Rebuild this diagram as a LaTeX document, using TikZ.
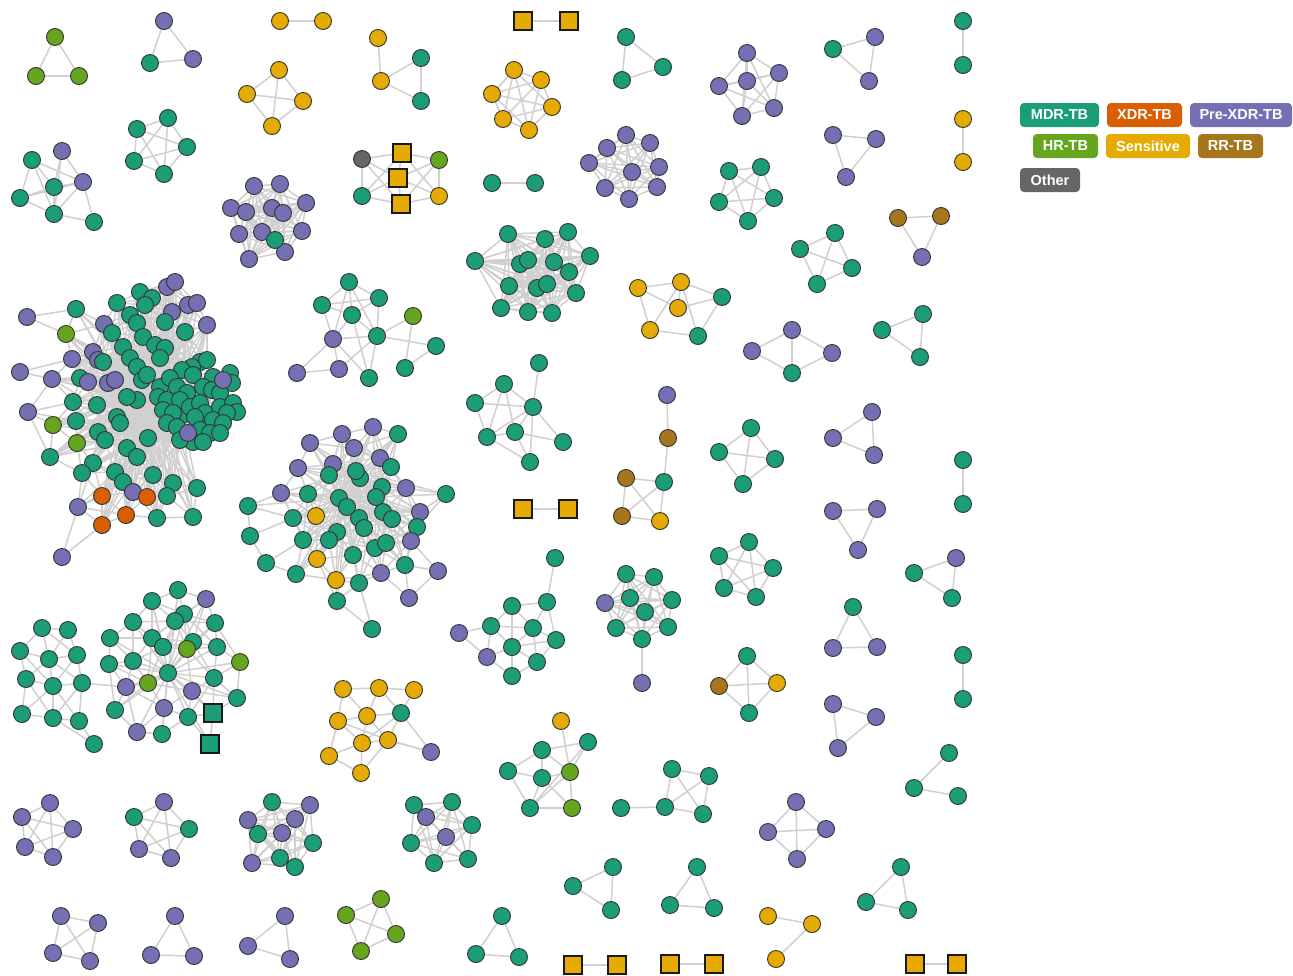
\documentclass[tikz,border=0pt]{standalone}
\usepackage{fontspec}
\newfontfamily\legfont{Liberation Sans}
\definecolor{cM}{HTML}{1B9E77}
\definecolor{cX}{HTML}{D95F02}
\definecolor{cP}{HTML}{7570B3}
\definecolor{cH}{HTML}{66A61E}
\definecolor{cS}{HTML}{E6AB02}
\definecolor{cR}{HTML}{A6761D}
\definecolor{cO}{HTML}{666666}
\definecolor{edgec}{HTML}{D0D0D0}
\pgfdeclarelayer{bg}
\pgfsetlayers{bg,main}
\newdimen\cdxa \newdimen\cdya \newdimen\cdxb \newdimen\cdyb
\tikzset{
 nd/.style={circle,inner sep=0pt,minimum size=17pt,draw=black!80,line width=0.9pt},
 mdr/.style={nd,fill=cM}, xdr/.style={nd,fill=cX}, pre/.style={nd,fill=cP},
 hr/.style={nd,fill=cH}, sen/.style={nd,fill=cS}, rr/.style={nd,fill=cR}, oth/.style={nd,fill=cO},
 sqn/.style={rectangle,inner sep=0pt,minimum size=18pt,draw=black!90,line width=2pt},
 msq/.style={sqn,fill=cM}, ssq/.style={sqn,fill=cS},
 lnk/.style={draw=edgec,line width=1.5pt},
 leg/.style={rectangle,rounded corners=4pt,inner sep=0pt,minimum height=24pt,text=white,
   font=\legfont\bfseries\fontsize{14.5}{16}\selectfont}
}
\newcommand\mkcl[2]{\foreach[count=\k] \px/\py/\pc in {#2}{%
  \edef\nodecmd{\noexpand\node[\pc] (#1\k) at (\px,\py) {};}\nodecmd
  \expandafter\xdef\csname n@#1\endcsname{\k}}}
\newcommand\tryedge[3]{%
  \pgfextractx{\cdxa}{\pgfpointanchor{#1}{center}}%
  \pgfextracty{\cdya}{\pgfpointanchor{#1}{center}}%
  \pgfextractx{\cdxb}{\pgfpointanchor{#2}{center}}%
  \pgfextracty{\cdyb}{\pgfpointanchor{#2}{center}}%
  \pgfmathtruncatemacro\ok{veclen(\cdxa-\cdxb,\cdya-\cdyb)<#3}%
  \ifnum\ok=1 \draw[lnk] (#1)--(#2);\fi}
\newcommand\nearin[2]{\edef\nn{\csname n@#1\endcsname}%
  \foreach \i in {1,...,\nn}{\foreach \j in {1,...,\nn}{\ifnum\i<\j \tryedge{#1\i}{#1\j}{#2}\fi}}}
\newcommand\nearab[3]{\edef\na{\csname n@#1\endcsname}\edef\nb{\csname n@#2\endcsname}%
  \foreach \i in {1,...,\na}{\foreach \j in {1,...,\nb}{\tryedge{#1\i}{#2\j}{#3}}}}
\newcommand\clq[1]{\nearin{#1}{9999}}
\newcommand\mkln[1]{\foreach \u/\v in {#1}{\draw[lnk] (\u)--(\v);}}
\begin{document}
\begin{tikzpicture}[x=1pt,y=-1pt]
\useasboundingbox (0,0) rectangle (1293,975);
% ---------------- nodes ----------------
\mkcl{A}{55/37/hr,36/76/hr,79/76/hr}
\mkcl{B}{164/21/pre,150/63/mdr,193/59/pre}
\mkcl{C}{280/21/sen,323/21/sen}
\mkcl{D}{279/70/sen,247/94/sen,303/101/sen,272/126/sen}
\mkcl{E}{168/118/mdr,137/129/mdr,187/147/mdr,134/161/mdr,164/174/mdr}
\mkcl{F}{32/160/mdr,62/151/pre,54/187/mdr,83/182/pre,20/198/mdr,54/214/mdr,94/222/mdr}
\mkcl{G}{254/186/pre,280/184/pre,306/203/pre,231/208/pre,246/212/pre,272/208/pre,283/213/pre,239/234/pre,262/232/pre,302/231/pre,249/259/pre,285/252/pre,275/240/mdr}
\mkcl{H}{378/38/sen,381/81/sen,421/58/mdr,421/101/mdr}
\mkcl{Qa}{523/21/ssq,569/21/ssq}
\mkcl{I}{514/70/sen,541/80/sen,492/94/sen,552/107/sen,503/119/sen,529/130/sen}
\mkcl{J}{362/159/oth,439/160/hr,362/196/mdr,439/196/sen,402/153/ssq,398/178/ssq,401/204/ssq}
\mkcl{Ka}{492/183/mdr,535/183/mdr}
\mkcl{K}{626/135/pre,607/148/pre,650/143/pre,589/163/pre,632/172/pre,659/167/pre,605/188/pre,629/199/pre,657/187/pre}
\mkcl{L}{626/37/mdr,622/80/mdr,663/67/mdr}
\mkcl{Pu}{747/53/pre,719/86/pre,747/81/pre,779/73/pre,742/116/pre,774/108/pre}
\mkcl{Nt}{833/49/mdr,875/37/pre,869/81/pre}
\mkcl{Pa}{963/21/mdr,963/65/mdr}
\mkcl{Pb}{963/119/sen,963/162/sen}
\mkcl{Ot}{833/135/pre,876/139/pre,846/177/pre}
\mkcl{Pg}{729/171/mdr,761/167/mdr,719/202/mdr,774/198/mdr,748/221/mdr}
\mkcl{Qr}{898/218/rr,941/216/rr,922/257/pre}
\mkcl{Rg}{835/233/mdr,800/249/mdr,852/268/mdr,817/284/mdr}
\mkcl{Sx}{638/288/sen,681/282/sen,722/297/mdr,678/308/sen,650/330/sen,698/336/mdr}
\mkcl{Td}{792/330/pre,752/351/pre,832/353/pre,792/373/mdr}
\mkcl{Ut}{882/330/mdr,923/314/mdr,920/357/mdr}
\mkcl{W}{508/234/mdr,545/239/mdr,568/232/mdr,590/256/mdr,475/261/mdr,520/264/mdr,528/260/mdr,554/262/mdr,569/272/mdr,509/286/mdr,537/288/mdr,547/284/mdr,576/293/mdr,501/308/mdr,528/312/mdr,552/313/mdr}
\mkcl{Y}{539/363/mdr,504/384/mdr,475/403/mdr,533/407/mdr,487/437/mdr,515/432/mdr,563/442/mdr,530/462/mdr}
\mkcl{Z}{667/395/pre,668/438/rr,664/482/mdr,626/478/rr,622/516/rr,660/521/sen}
\mkcl{Qb}{523/509/ssq,568/509/ssq}
\mkcl{Vg}{751/428/mdr,719/452/mdr,775/459/mdr,743/484/mdr}
\mkcl{Wt}{872/412/pre,833/438/pre,874/455/pre}
\mkcl{Pc}{963/460/mdr,963/504/mdr}
\mkcl{Xt}{833/511/pre,877/509/pre,858/550/pre}
\mkcl{Yg}{749/542/mdr,719/556/mdr,773/568/mdr,724/588/mdr,756/597/mdr}
\mkcl{Zt}{914/573/mdr,956/558/pre,952/598/mdr}
\mkcl{Aa}{853/607/mdr,833/648/pre,877/647/pre}
\mkcl{Pd}{963/655/mdr,963/699/mdr}
\mkcl{Bb}{747/656/mdr,719/686/rr,777/683/sen,749/713/mdr}
\mkcl{Cc}{833/704/pre,876/717/pre,838/748/pre}
\mkcl{Dd}{949/753/mdr,914/788/mdr,958/796/mdr}
\mkcl{Ee}{796/802/pre,768/832/pre,826/829/pre,797/859/pre}
\mkcl{Ff}{901/867/mdr,866/902/mdr,908/910/mdr}
\mkcl{Gg}{768/916/sen,812/924/sen,776/959/sen}
\mkcl{Qc}{573/965/ssq,617/965/ssq}
\mkcl{Qd}{670/964/ssq,714/964/ssq}
\mkcl{Qe}{915/964/ssq,957/964/ssq}
\mkcl{Q}{672/769/mdr,709/776/mdr,621/808/mdr,665/807/mdr,703/814/mdr}
\mkcl{Hh}{613/867/mdr,573/886/mdr,611/910/mdr}
\mkcl{Ii}{697/867/mdr,670/905/mdr,714/908/mdr}
\mkcl{Jj}{502/916/mdr,476/954/mdr,519/957/mdr}
\mkcl{P}{561/721/sen,588/742/mdr,542/750/mdr,508/771/mdr,542/778/mdr,570/772/hr,530/808/mdr,572/808/hr}
\mkcl{N}{626/574/mdr,654/577/mdr,605/603/pre,630/598/mdr,672/600/mdr,645/612/mdr,616/628/mdr,668/627/mdr,642/639/mdr}
\mkcl{Nx}{642/683/pre}
\mkcl{M}{555/558/mdr,547/602/mdr,512/606/mdr,491/626/mdr,533/628/mdr,459/633/pre,556/640/mdr,512/647/mdr,487/657/pre,537/662/mdr,512/676/mdr}
\mkcl{O}{343/689/sen,379/688/sen,414/690/sen,338/721/sen,367/716/sen,401/713/mdr,362/743/sen,388/740/sen,329/756/sen,361/773/sen,431/752/pre}
\mkcl{R}{42/628/mdr,68/630/mdr,20/651/mdr,49/659/mdr,77/655/mdr,26/679/mdr,53/686/mdr,82/683/mdr,22/714/mdr,53/718/mdr,79/721/mdr,94/744/mdr}
\mkcl{S}{178/590/mdr,152/601/mdr,206/599/pre,184/614/mdr,175/621/mdr,133/622/mdr,215/623/mdr,110/638/mdr,152/638/mdr,163/647/mdr,193/642/mdr,187/649/hr,217/647/mdr,109/664/mdr,133/661/mdr,240/662/hr,214/678/mdr,126/687/pre,148/683/hr,192/691/pre,237/698/mdr,164/708/pre,188/717/mdr,115/710/mdr,137/732/pre,162/734/mdr,213/713/msq,210/744/msq}
\mkcl{Sh}{168/673/mdr}
\mkcl{Kk}{50/803/pre,22/817/pre,73/829/pre,25/847/pre,53/857/pre}
\mkcl{Ll}{164/802/pre,134/817/mdr,189/829/mdr,139/849/pre,171/858/pre}
\mkcl{Mm}{272/802/mdr,310/805/pre,248/820/pre,295/819/pre,258/834/mdr,282/833/pre,313/843/mdr,252/863/pre,280/858/mdr,295/867/mdr}
\mkcl{Nn}{414/805/mdr,452/802/mdr,426/817/pre,472/825/mdr,446/837/pre,411/843/mdr,434/863/mdr,468/859/mdr}
\mkcl{Oo}{61/916/pre,98/923/pre,53/953/pre,90/961/pre}
\mkcl{Pp}{175/916/pre,151/955/pre,194/956/pre}
\mkcl{Qq}{285/916/pre,248/946/pre,290/959/pre}
\mkcl{Rr}{381/899/hr,346/915/hr,396/934/hr,361/951/hr}
\mkcl{U}{349/282/mdr,322/305/mdr,379/298/mdr,352/315/mdr,413/316/hr,333/339/pre,377/336/mdr,436/346/mdr,297/373/pre,339/369/pre,369/378/mdr,405/368/mdr}
\mkcl{V}{310/443/pre,342/434/pre,373/427/pre,398/434/mdr,354/448/pre,380/458/pre,391/467/mdr,298/468/pre,333/464/pre,329/475/mdr,360/478/mdr,281/493/pre,308/494/mdr,382/487/mdr,406/488/pre,446/494/mdr,248/506/mdr,293/518/mdr,316/516/sen,359/518/mdr,383/512/mdr,392/519/mdr,364/528/mdr,420/512/pre,417/527/mdr,250/536/mdr,303/540/mdr,337/532/mdr,329/540/mdr,375/548/mdr,386/543/mdr,411/541/pre,317/559/sen,353/555/mdr,266/563/mdr,296/574/mdr,381/573/pre,405/565/mdr,438/571/pre,336/580/sen,359/583/mdr,337/601/mdr,409/598/pre,372/629/mdr}
\mkcl{Vh}{356/471/mdr,339/498/mdr,376/497/mdr,347/507/mdr}
\mkcl{To}{27/317/pre,20/372/pre,28/412/pre,78/507/pre,62/557/pre}
\mkcl{T}{76/309/mdr,66/334/hr,104/324/pre,117/303/mdr,140/292/mdr,152/298/mdr,167/287/pre,175/282/pre,145/305/mdr,130/315/mdr,137/323/mdr,172/312/pre,188/305/pre,197/303/pre,165/322/mdr,185/332/mdr,207/325/pre,112/333/mdr,123/347/mdr,143/337/mdr,155/345/mdr,165/348/mdr,160/358/mdr,93/352/pre,98/360/pre,103/362/mdr,72/359/pre,52/379/pre,80/378/mdr,88/382/pre,108/383/pre,115/380/pre,130/358/mdr,137/367/mdr,142/380/mdr,137/400/mdr,73/402/mdr,97/405/mdr,53/425/hr,76/421/mdr,77/443/hr,50/457/mdr,98/432/mdr,105/440/mdr,117/417/mdr,120/423/mdr,127/448/mdr,137/457/mdr,93/463/mdr,82/473/mdr,115/472/mdr,123/482/mdr,153/475/mdr,173/483/mdr,197/488/mdr,133/492/pre,102/496/xdr,147/497/xdr,167/496/mdr,126/515/xdr,102/525/xdr,157/518/mdr,193/517/mdr}
\mkcl{Th}{147/375/mdr,127/397/mdr,160/387/mdr,182/415/mdr,148/438/mdr}
\mkcl{Tc}{200/362/mdr,207/360/mdr,192/367/mdr,182/370/mdr,170/378/mdr,193/375/mdr,213/377/mdr,230/373/mdr,232/383/mdr,177/387/mdr,187/393/mdr,203/387/mdr,212/390/mdr,220/393/mdr,158/397/mdr,167/400/mdr,180/400/mdr,190/407/mdr,200/403/mdr,205/413/mdr,220/407/mdr,233/403/mdr,237/412/mdr,227/413/mdr,163/410/mdr,173/413/mdr,195/417/mdr,213/420/mdr,223/423/mdr,167/423/mdr,177/427/mdr,200/430/mdr,210/433/mdr,220/433/mdr,193/442/mdr,180/440/mdr,203/442/mdr,223/380/pre,188/433/pre}
% ---------------- legend ----------------
\node[leg,fill=cM,minimum width=79pt] (lgM) at (1059.5,115) {MDR-TB};
\node[leg,fill=cX,minimum width=75pt] (lgX) at (1144.5,115) {XDR-TB};
\node[leg,fill=cP,minimum width=102pt] (lgP) at (1241,115) {Pre-XDR-TB};
\node[leg,fill=cH,minimum width=65pt] (lgH) at (1065.5,146) {HR-TB};
\node[leg,fill=cS,minimum width=84pt] (lgS) at (1148,146) {Sensitive};
\node[leg,fill=cR,minimum width=65pt] (lgR) at (1230.5,146) {RR-TB};
\node[leg,fill=cO,minimum width=60pt] (lgO) at (1050,180) {Other};
% ---------------- edges ----------------
\begin{pgfonlayer}{bg}
\fill[white] (0,0) rectangle (1293,975);
\clq{A}\clq{B}\clq{C}\clq{D}\clq{E}\clq{G}\clq{Qa}\clq{I}\clq{Ka}\clq{K}\clq{L}\clq{Pu}\clq{Nt}
\clq{Pa}\clq{Pb}\clq{Ot}\clq{Pg}\clq{Qr}\clq{Rg}\clq{Ut}\clq{W}\clq{Qb}\clq{Vg}\clq{Wt}\clq{Pc}
\clq{Xt}\clq{Yg}\clq{Zt}\clq{Aa}\clq{Pd}\clq{Bb}\clq{Cc}\clq{Ee}\clq{Ff}\clq{Qc}\clq{Qd}\clq{Qe}
\clq{Hh}\clq{Ii}\clq{Jj}\clq{N}\clq{Kk}\clq{Ll}\clq{Mm}\clq{Nn}\clq{Oo}\clq{Pp}\clq{Qq}\clq{Rr}
\mkln{F1/F3,F1/F5,F1/F6,F1/F4,F2/F3,F2/F4,F2/F6,F3/F4,F3/F5,F3/F6,F5/F6,F4/F6,F4/F7,F6/F7,F5/F4}
\mkln{H1/H2,H2/H3,H2/H4,H3/H4}
\mkln{J1/J5,J1/J6,J1/J7,J1/J3,J2/J5,J2/J6,J2/J7,J2/J4,J3/J5,J3/J6,J3/J7,J4/J5,J4/J6,J4/J7,J5/J6,J6/J7}
\mkln{Sx1/Sx2,Sx1/Sx4,Sx1/Sx5,Sx2/Sx3,Sx2/Sx4,Sx2/Sx5,Sx2/Sx6,Sx4/Sx3,Sx3/Sx6,Sx5/Sx6}
\mkln{Td1/Td2,Td1/Td3,Td1/Td4,Td2/Td4,Td3/Td4}
\mkln{Y1/Y4,Y2/Y3,Y2/Y4,Y2/Y5,Y2/Y6,Y3/Y4,Y3/Y5,Y4/Y5,Y4/Y6,Y4/Y7,Y4/Y8,Y5/Y6,Y5/Y8,Y6/Y8,Y6/Y7}
\mkln{Z1/Z2,Z2/Z3,Z3/Z4,Z3/Z5,Z3/Z6,Z4/Z5,Z4/Z6,Z5/Z6}
\mkln{Dd1/Dd2,Dd2/Dd3,Gg1/Gg2,Gg2/Gg3}
\mkln{Q1/Q2,Q1/Q4,Q1/Q5,Q2/Q4,Q2/Q5,Q3/Q4,Q4/Q5}
\mkln{P1/P6,P2/P3,P2/P6,P2/P7,P3/P4,P3/P5,P3/P6,P4/P5,P4/P7,P5/P6,P5/P7,P5/P8,P6/P8,P6/P7,P7/P8}
\mkln{N9/Nx1}
\nearin{M}{50}
\nearin{O}{45}
\mkln{O6/O11,O8/O11,O4/O8,O6/O7}
\nearin{R}{50}
\mkln{R8/S18}
\nearin{S}{48}
\nearab{S}{Sh}{110}
\mkln{U1/U2,U1/U3,U1/U4,U1/U6,U1/U7,U2/U3,U2/U4,U2/U6,U3/U4,U3/U7,U4/U6,U4/U7,U6/U7,U6/U9,U6/U10,U9/U10,U10/U7,U7/U11,U7/U5,U7/U8,U5/U12,U8/U12,U4/U11,U6/U11}
\nearin{V}{48}
\nearab{V}{Vh}{95}
\clq{Vh}
\nearab{To}{T}{55}
\mkln{To4/To5}
\nearin{T}{40}
\nearab{T}{Th}{2000}
\clq{Th}
\nearab{Tc}{Th}{2000}
\nearab{T}{Tc}{45}
\end{pgfonlayer}
\end{tikzpicture}
\end{document}
